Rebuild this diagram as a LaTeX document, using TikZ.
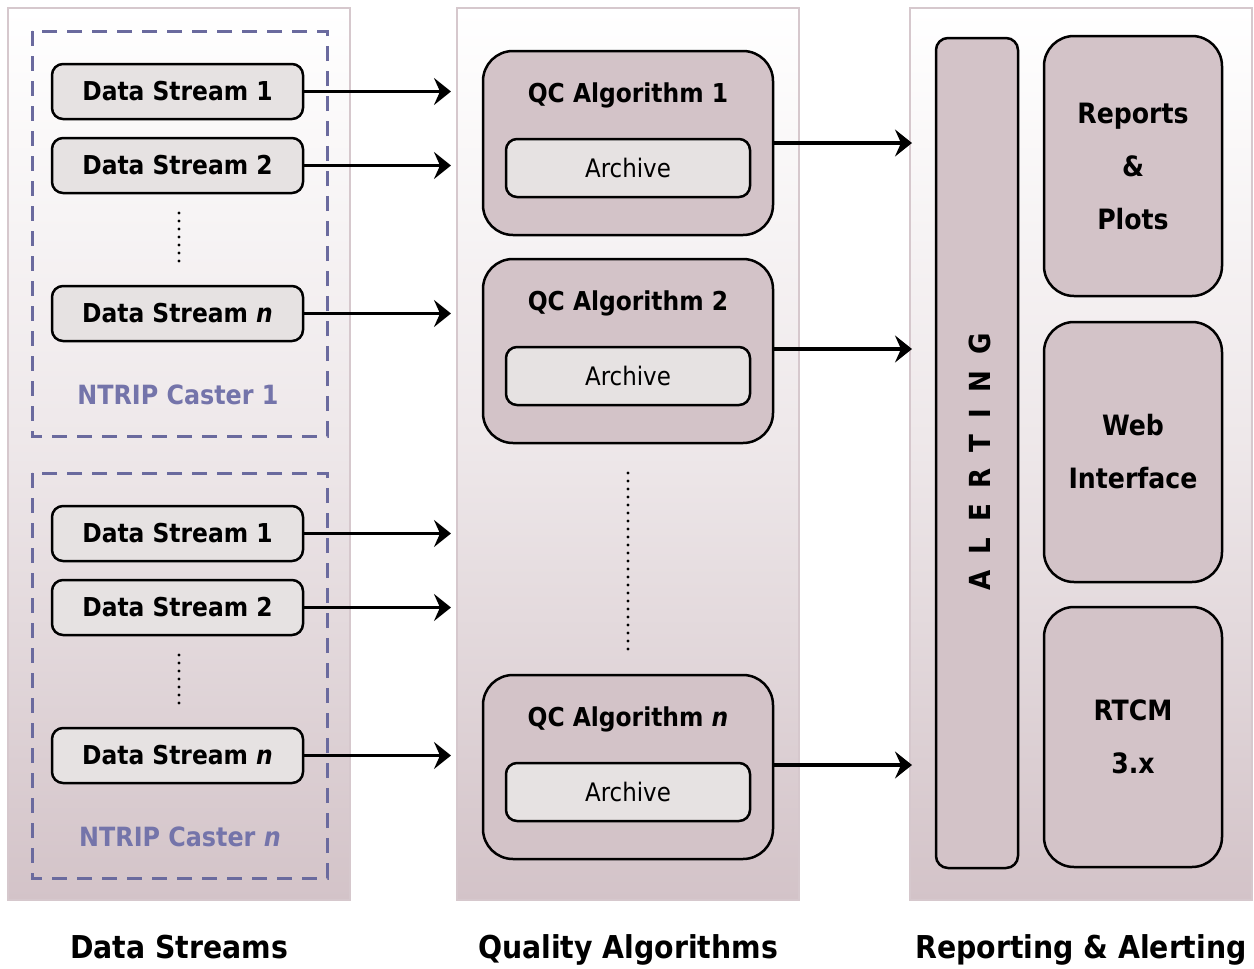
\documentclass[tikz,border=0pt]{standalone}
\usepackage{fontspec}
\setmainfont{DejaVu Sans Condensed}
\usetikzlibrary{arrows.meta}
\definecolor{mauve}{HTML}{D3C3C8}
\definecolor{panelline}{HTML}{D6C8CD}
\definecolor{lightbox}{HTML}{E6E2E2}
\definecolor{caster}{HTML}{6A6A9E}
\definecolor{castertext}{HTML}{7474AA}
\begin{document}
\begin{tikzpicture}[x=1pt,y=-1pt,
  panel/.style={draw=panelline, line width=2pt, top color=white, bottom color=mauve, middle color=white!60!mauve},
  castbox/.style={draw=caster, line width=3pt, dash pattern=on 15pt off 10pt},
  dsbox/.style={draw=black, line width=2.5pt, fill=lightbox, rounded corners=11pt,
    minimum width=251pt, minimum height=55pt, inner sep=0pt,
    font=\fontsize{26}{30}\selectfont\bfseries},
  qcbox/.style={draw=black, line width=2.5pt, fill=mauve, rounded corners=30pt,
    minimum width=290pt, minimum height=184pt, inner sep=0pt},
  qctitle/.style={font=\fontsize{26}{30}\selectfont\bfseries, inner sep=0pt},
  archbox/.style={draw=black, line width=2.5pt, fill=lightbox, rounded corners=11pt,
    minimum width=244pt, minimum height=58pt, inner sep=0pt,
    font=\fontsize{25.5}{30}\selectfont},
  outbox/.style={draw=black, line width=2.5pt, fill=mauve, rounded corners=30pt,
    minimum width=178pt, minimum height=260pt, inner sep=0pt, align=center,
    font=\fontsize{28}{53}\selectfont\bfseries},
  alertbar/.style={draw=black, line width=2.5pt, fill=mauve, rounded corners=12pt,
    minimum width=82pt, minimum height=830pt, inner sep=0pt},
  flow/.style={-{Stealth[length=17pt,width=27pt,inset=6pt]}, line width=3.5pt},
  dotline/.style={line width=3.2pt, line cap=round, dash pattern=on 0pt off 8pt},
  casttitle/.style={text=castertext, font=\fontsize{26.5}{30}\selectfont\bfseries, inner sep=0pt},
  coltitle/.style={font=\fontsize{31.5}{36}\selectfont\bfseries, inner sep=0pt}
]
\useasboundingbox (0,0) rectangle (1254,969);

% column backgrounds
\path[panel] (8,8) rectangle (350,900);
\path[panel] (457,8) rectangle (799,900);
\path[panel] (910,8) rectangle (1252,900);

% NTRIP caster groups
\draw[castbox] (32,31) rectangle (327,436);
\draw[castbox] (32,473) rectangle (327,878);
\node[casttitle] (cast1) at (178,395) {NTRIP Caster 1};
\node[casttitle] (castn) at (180,837) {NTRIP Caster \textit{n}};

% data streams
\node[dsbox] (ds11) at (177.5,91.5) {Data Stream 1};
\node[dsbox] (ds12) at (177.5,165.5) {Data Stream 2};
\node[dsbox] (ds1n) at (177.5,313.5) {Data Stream \textit{n}};
\node[dsbox] (ds21) at (177.5,533.5) {Data Stream 1};
\node[dsbox] (ds22) at (177.5,607.5) {Data Stream 2};
\node[dsbox] (ds2n) at (177.5,755.5) {Data Stream \textit{n}};
\coordinate (d1a) at (179,213);
\coordinate (d1b) at (179,261);
\coordinate (d2a) at (179,655);
\coordinate (d2b) at (179,703);
\draw[dotline] (d1a) -- (d1b);
\draw[dotline] (d2a) -- (d2b);

% arrows into quality algorithms
\coordinate (in11) at (451,91.5);
\coordinate (in12) at (451,165.5);
\coordinate (in1n) at (451,313.5);
\coordinate (in21) at (451,533.5);
\coordinate (in22) at (451,607.5);
\coordinate (in2n) at (451,755.5);
\foreach \s in {11,12,1n,21,22,2n}
  \draw[flow] (ds\s.east) -- (in\s);

% quality algorithms
\node[qcbox] (qc1) at (628,143) {};
\node[qcbox] (qc2) at (628,351) {};
\node[qcbox] (qcn) at (628,767) {};
\node[qctitle] (qc1t) at (628,95) {QC Algorithm 1};
\node[qctitle] (qc2t) at (628,303) {QC Algorithm 2};
\node[qctitle] (qcnt) at (628,719) {QC Algorithm \textit{n}};
\node[archbox] (ar1) at (628,168) {Archive};
\node[archbox] (ar2) at (628,376) {Archive};
\node[archbox] (arn) at (628,792) {Archive};
\coordinate (q1a) at (628,473);
\coordinate (q1b) at (628,649);
\draw[dotline] (q1a) -- (q1b);

% arrows into reporting
\coordinate (out1) at (912,143);
\coordinate (out2) at (912,349);
\coordinate (outn) at (912,765);
\draw[flow] (qc1.east |- out1) -- (out1);
\draw[flow] (qc2.east |- out2) -- (out2);
\draw[flow] (qcn.east |- outn) -- (outn);

% reporting and alerting
\node[alertbar] (alert) at (977,453) {};
\node[rotate=90, inner sep=0pt, font=\fontsize{29}{33}\selectfont\bfseries] (alertt) at (980,462) {A\hspace{0.55em}L\hspace{0.55em}E\hspace{0.55em}R\hspace{0.55em}T\hspace{0.55em}I\hspace{0.55em}N\hspace{0.55em}G};
\node[outbox] (rep) at (1133,166) {Reports\\\&\\Plots};
\node[outbox] (web) at (1133,452) {Web\\Interface};
\node[outbox] (rtcm) at (1133,737) {RTCM\\3.x};

% column titles
\node[coltitle] (c1) at (179,947) {Data Streams};
\node[coltitle] (c2) at (628,950) {Quality Algorithms};
\node[coltitle] (c3) at (1081,950) {Reporting \& Alerting};
\end{tikzpicture}
\end{document}
